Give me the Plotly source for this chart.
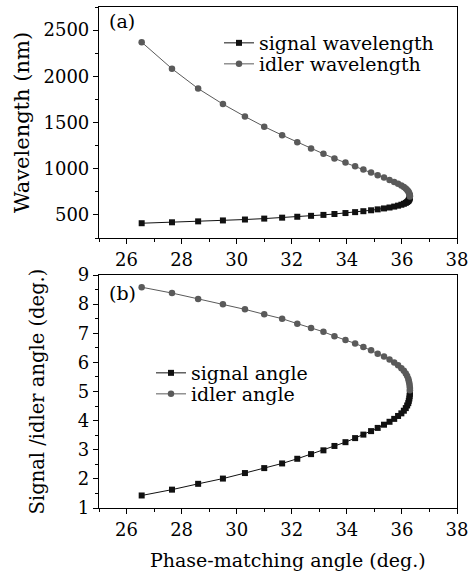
import plotly.graph_objects as go
from plotly.subplots import make_subplots

# Phase-matching angle (deg.)
theta = [26.55, 27.65, 28.6, 29.5, 30.3, 31.0, 31.65, 32.2, 32.7, 33.15,
         33.55, 33.95, 34.3, 34.6, 34.88, 35.12, 35.35, 35.55, 35.72, 35.86,
         35.98, 36.07, 36.14, 36.19, 36.23, 36.25, 36.27, 36.28, 36.29, 36.29]

signal_wl = [410, 420, 430, 440, 450, 460, 470, 480, 490, 500,
             510, 520, 530, 540, 550, 560, 570, 580, 590, 600,
             610, 620, 630, 640, 650, 660, 670, 680, 690, 700]
idler_wl = [2369, 2082, 1867, 1699, 1565, 1455, 1363, 1286, 1219, 1161,
            1111, 1066, 1026, 991, 959, 930, 904, 879, 857, 837,
            818, 801, 785, 770, 756, 743, 731, 719, 708, 698]

signal_ang = [1.43, 1.63, 1.83, 2.01, 2.2, 2.37, 2.53, 2.69, 2.85, 2.98,
              3.13, 3.26, 3.4, 3.52, 3.64, 3.75, 3.86, 3.96, 4.06, 4.16,
              4.25, 4.34, 4.43, 4.52, 4.6, 4.68, 4.76, 4.84, 4.92, 4.99]
idler_ang = [8.58, 8.38, 8.18, 8.0, 7.82, 7.65, 7.5, 7.33, 7.18, 7.05,
             6.9, 6.77, 6.65, 6.53, 6.42, 6.3, 6.2, 6.1, 6.0, 5.9,
             5.8, 5.71, 5.62, 5.53, 5.44, 5.36, 5.28, 5.2, 5.12, 5.04]

FONT = "DejaVu Serif"
SIG_C = "#111111"
IDL_C = "#5a5a5a"

fig = make_subplots(rows=2, cols=1, vertical_spacing=0.0)

fig.add_trace(go.Scatter(x=theta, y=signal_wl, name="signal wavelength", mode="lines+markers",
                         line=dict(color=SIG_C, width=1), marker=dict(symbol="square", size=6, color=SIG_C),
                         legend="legend"), row=1, col=1)
fig.add_trace(go.Scatter(x=theta, y=idler_wl, name="idler wavelength", mode="lines+markers",
                         line=dict(color=IDL_C, width=1), marker=dict(symbol="circle", size=6.5, color=IDL_C),
                         legend="legend2"), row=1, col=1)
fig.add_trace(go.Scatter(x=theta, y=signal_ang, name="signal angle", mode="lines+markers",
                         line=dict(color=SIG_C, width=1), marker=dict(symbol="square", size=6, color=SIG_C),
                         legend="legend3"), row=2, col=1)
fig.add_trace(go.Scatter(x=theta, y=idler_ang, name="idler angle", mode="lines+markers",
                         line=dict(color=IDL_C, width=1), marker=dict(symbol="circle", size=6.5, color=IDL_C),
                         legend="legend4"), row=2, col=1)

H = 576
ml, mr, mt, mb = 99, 13, 7, 68
ph = H - mt - mb

def py(p):
    return (H - mb - p) / ph

def px(p):
    return (p - ml) / (470 - ml - mr)

axis_common = dict(showline=True, linecolor="black", linewidth=1.2, mirror=True,
                   ticks="outside", ticklen=5, tickwidth=1, tickcolor="black",
                   showgrid=False, zeroline=False, automargin=False,
                   tickfont=dict(family=FONT, size=18, color="black"))

fig.update_xaxes(range=[25, 38], dtick=2, tick0=26,
                 minor=dict(ticks="outside", ticklen=3, dtick=1, tick0=25, tickcolor="black", showgrid=False),
                 **axis_common)
fig.update_yaxes(**axis_common)

def leg(xp, yp):
    return dict(x=px(xp), y=py(yp), xanchor="left", yanchor="middle", bgcolor="rgba(0,0,0,0)",
                font=dict(family=FONT, size=19, color="black"), itemwidth=30, borderwidth=0)

fig.update_layout(
    width=470, height=576,
    margin=dict(l=ml, r=mr, t=mt, b=mb, autoexpand=False),
    paper_bgcolor="white", plot_bgcolor="white",
    font=dict(family=FONT, color="black"),
    xaxis=dict(domain=[0, 1], anchor="y"),
    yaxis=dict(domain=[py(238), 1], range=[250, 2750], dtick=500, tick0=500,
               minor=dict(ticks="outside", ticklen=3, dtick=250, tick0=250, tickcolor="black", showgrid=False),
               title=dict(text="Wavelength (nm)", font=dict(family=FONT, size=21), standoff=8)),
    xaxis2=dict(domain=[0, 1], anchor="y2"),
    yaxis2=dict(domain=[0, py(275)], range=[1, 9], dtick=1, tick0=1,
                minor=dict(ticks="outside", ticklen=3, dtick=0.5, tick0=1, tickcolor="black", showgrid=False),
                title=dict(text="Signal /idler angle (deg.)", font=dict(family=FONT, size=19.5), standoff=28)),
    legend=leg(219, 43),
    legend2=leg(219, 64),
    legend3=leg(151, 373),
    legend4=leg(151, 394),
    showlegend=True,
)

fig.add_annotation(text="Phase-matching angle (deg.)", x=px(288), y=py(560), xref="paper", yref="paper",
                   xanchor="center", yanchor="middle", showarrow=False,
                   font=dict(family=FONT, size=19, color="black"))
fig.add_annotation(text="(a)", x=px(107), y=py(21), xref="paper", yref="paper",
                   xanchor="left", yanchor="middle", showarrow=False,
                   font=dict(family=FONT, size=19, color="black"))
fig.add_annotation(text="(b)", x=px(107), y=py(293), xref="paper", yref="paper",
                   xanchor="left", yanchor="middle", showarrow=False,
                   font=dict(family=FONT, size=19, color="black"))

fig.write_html("out.html", config={"displayModeBar": False},
               post_script="document.body.style.margin='0';document.body.style.overflow='hidden';")
